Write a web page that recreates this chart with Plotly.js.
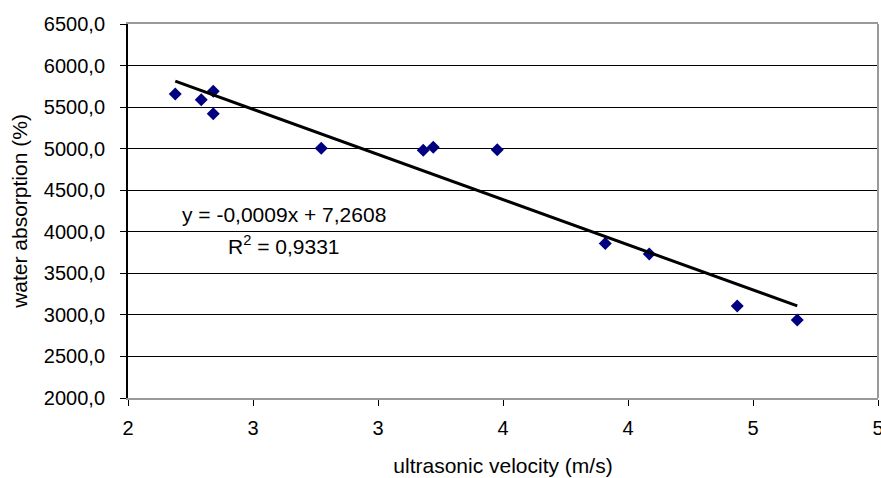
<!DOCTYPE html>
<html>
<head>
<meta charset="utf-8">
<script src="https://cdn.plot.ly/plotly-3.0.1.min.js"></script>
<style>html,body{margin:0;padding:0;background:#fff;}#chart{width:881px;height:478px;}</style>
</head>
<body>
<div id="chart"></div>
<script>
// Data
var velocity = [2.189, 2.293, 2.341, 2.341, 2.773, 3.181, 3.221, 3.477, 3.909, 4.085, 4.437, 4.677];
var absorption = [5658, 5590, 5690, 5421, 5006, 4980, 5016, 4988, 3858, 3734, 3107, 2940];
var xTickVals = [2, 2.5, 3, 3.5, 4, 4.5, 5];
var xTickText = ["2", "3", "3", "4", "4", "5", "5"];
var equationText = "y = -0,0009x + 7,2608";
var r2Text = "R<sup>2</sup> = 0,9331";

// Linear least-squares trendline computed from the data
var n = velocity.length, sx = 0, sy = 0, sxx = 0, sxy = 0;
for (var i = 0; i < n; i++) { sx += velocity[i]; sy += absorption[i]; sxx += velocity[i]*velocity[i]; sxy += velocity[i]*absorption[i]; }
var slope = (n*sxy - sx*sy) / (n*sxx - sx*sx);
var intercept = (sy - slope*sx) / n;
var xMin = Math.min.apply(null, velocity), xMax = Math.max.apply(null, velocity);
var trendX = [xMin, xMax];
var trendY = trendX.map(function(v){ return intercept + slope*v; });

var font = {family: "Liberation Sans, Arial, sans-serif", size: 20, color: "#000"};
var annFont = {family: "Liberation Sans, Arial, sans-serif", size: 21, color: "#000"};

var traces = [
  {x: velocity, y: absorption, type: "scatter", mode: "markers",
   marker: {symbol: "diamond", size: 10, color: "#000080"}, showlegend: false},
  {x: trendX, y: trendY, type: "scatter", mode: "lines",
   line: {color: "#000", width: 3}, showlegend: false}
];

var layout = {
  width: 881, height: 478,
  margin: {l: 128, r: 3, t: 24, b: 80},
  paper_bgcolor: "#fff", plot_bgcolor: "#fff",
  font: font,
  separators: ",.",
  xaxis: {
    range: [2, 5], tickvals: xTickVals, ticktext: xTickText,
    showgrid: false, zeroline: false,
    showline: true, linecolor: "#999", linewidth: 2, mirror: true,
    ticks: "outside", ticklen: 6, tickcolor: "#000", tickwidth: 1,
    ticklabelstandoff: 5, ticklabeloverflow: "allow",
    tickfont: font,
    title: {text: "ultrasonic velocity (m/s)", font: annFont, standoff: 20}
  },
  yaxis: {
    range: [2000, 6500], dtick: 500, tick0: 2000, tickformat: ".1f",
    showgrid: true, gridcolor: "#000", gridwidth: 1, zeroline: false,
    showline: true, linecolor: "#000", linewidth: 2,
    ticks: "outside", ticklen: 6, tickcolor: "#000", tickwidth: 1,
    ticklabelstandoff: 11, ticklabeloverflow: "allow",
    tickfont: font,
    title: {text: "water absorption (%)", font: annFont, standoff: 10}
  },
  shapes: [
    {type: "line", xref: "paper", yref: "paper", x0: 1, x1: 1, y0: 0, y1: 1,
     line: {color: "#999", width: 2}}
  ],
  annotations: [
    {xref: "paper", yref: "paper", x: 0.208, y: 0.49, text: equationText,
     showarrow: false, font: annFont, xanchor: "center", yanchor: "middle"},
    {xref: "paper", yref: "paper", x: 0.208, y: 0.41, text: r2Text,
     showarrow: false, font: annFont, xanchor: "center", yanchor: "middle"}
  ]
};

Plotly.newPlot("chart", traces, layout, {displayModeBar: false, staticPlot: true});
</script>
</body>
</html>
